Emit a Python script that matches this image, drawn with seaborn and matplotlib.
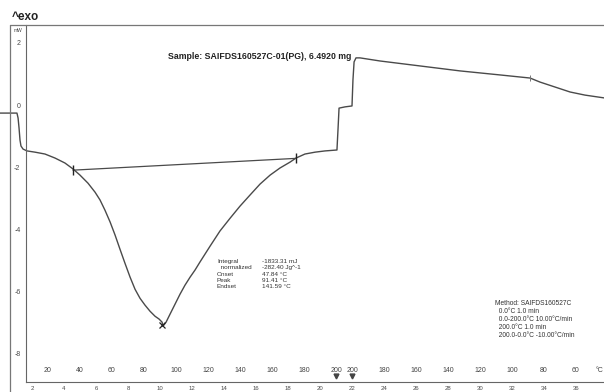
import matplotlib
matplotlib.use("Agg")
import matplotlib.pyplot as plt
from matplotlib.lines import Line2D
import seaborn as sns

# DSC curve: time (min) vs heat flow (mW)
time_min = [0.0, 1.06, 1.13, 1.19, 1.25, 1.31, 1.44, 1.69, 2.19, 2.81, 3.44,
            4.06, 4.56, 5.0, 5.5, 5.94, 6.25, 6.56, 6.88, 7.19, 7.5, 7.81,
            8.13, 8.44, 8.75, 9.06, 9.38, 9.69, 9.94, 10.13, 10.19, 10.38,
            10.63, 10.94, 11.25, 11.56, 11.88, 12.19, 12.5, 13.13, 13.75,
            14.38, 15.0, 15.63, 16.25, 16.88, 17.5, 18.13, 18.5, 19.06, 19.69,
            20.31, 21.06, 21.13, 21.19, 21.56, 22.0, 22.06, 22.13, 22.25, 22.5,
            23.75, 26.25, 28.75, 31.25, 33.13, 33.75, 34.69, 35.63, 36.56,
            37.75]
heat_flow = [-0.26, -0.26, -0.42, -0.74, -1.13, -1.32, -1.42, -1.48, -1.52,
             -1.58, -1.71, -1.87, -2.06, -2.26, -2.52, -2.81, -3.06, -3.39,
             -3.77, -4.19, -4.65, -5.10, -5.55, -5.94, -6.23, -6.45, -6.65,
             -6.81, -6.90, -7.00, -7.13, -7.00, -6.74, -6.42, -6.10, -5.81,
             -5.55, -5.32, -5.06, -4.55, -4.06, -3.65, -3.26, -2.90, -2.55,
             -2.26, -2.03, -1.84, -1.71, -1.58, -1.52, -1.48, -1.45, -0.74,
             -0.10, -0.06, -0.03, 0.81, 1.39, 1.52, 1.52, 1.42, 1.26, 1.10,
             0.97, 0.87, 0.74, 0.58, 0.42, 0.32, 0.23]

# integration baseline and markers
base_t = [4.56, 18.5]
base_mw = [-2.1, -1.72]
peak_t = [10.1]
peak_mw = [-7.1]
mark_t = [33.13]
mark_mw = [0.87]

# temperature labels above the time axis
temp_times = [3, 5, 7, 9, 11, 13, 15, 17, 19, 21, 22, 24, 26, 28, 30, 32, 34, 36]
temp_labels = ["20", "40", "60", "80", "100", "120", "140", "160", "180", "200",
               "200", "180", "160", "140", "120", "100", "80", "60"]
segment_ends = [21, 22]

ytick_major = [-8, -6, -4, -2, 0, 2]
ytick_minor = [-7, -5, -3, -1, 1]

sns.set_style("white")
plt.rcParams["font.family"] = ["Liberation Sans", "DejaVu Sans"]

col = "#4a4a4a"
fig = plt.figure(figsize=(6.04, 3.92), dpi=100)
ax = fig.add_axes([26 / 604, 10 / 392, 578 / 604, 357 / 392])

sns.lineplot(x=time_min, y=heat_flow, sort=False, ax=ax, color=col,
             linewidth=1.0, clip_on=False)
sns.lineplot(x=base_t, y=base_mw, sort=False, ax=ax, color=col, linewidth=0.9)
ax.plot(base_t, base_mw, ls="none", marker="|", ms=7, mew=1.0, color="#222")
ax.plot(peak_t, peak_mw, ls="none", marker="x", ms=4, mew=0.9, color="#222")
ax.plot(mark_t, mark_mw, ls="none", marker="|", ms=5, mew=0.7, color="#777")

ax.set_xlim(1.625, 37.75)
ax.set_ylim(-8.93, 2.58)

for s in ["top", "right"]:
    ax.spines[s].set_visible(False)
for s in ["left", "bottom"]:
    ax.spines[s].set_color("#666")
    ax.spines[s].set_linewidth(0.8)

xt = list(range(2, 38))
ax.set_xticks(xt)
ax.set_xticklabels([str(t) if t % 2 == 0 else "" for t in xt])
ax.tick_params(axis="x", direction="inout", length=5, width=0.7, colors=col,
               labelsize=4.3, pad=0.5)
ax.set_yticks(ytick_major)
ax.set_yticks(ytick_minor, minor=True)
ax.set_yticklabels([str(v) for v in ytick_major])
ax.tick_params(axis="y", which="both", direction="out", length=3, width=0.6,
               colors=col, labelsize=5, pad=1)

tr = ax.get_xaxis_transform()
for t, lab in zip(temp_times, temp_labels):
    ax.text(t, 0.031, lab, transform=tr, ha="center", va="center",
            fontsize=5, color="#444")
ax.text(37.5, 0.031, "°C", transform=tr, ha="center", va="center",
        fontsize=5, color="#444", clip_on=False)
ax.plot(segment_ends, [0.016, 0.016], ls="none", marker="v", ms=3.5,
        color="#444", transform=tr, clip_on=False)

# outer frame
fig.add_artist(Line2D([10 / 604, 1.0], [1 - 25 / 392, 1 - 25 / 392],
                      color="#777", lw=0.9))
fig.add_artist(Line2D([10 / 604, 10 / 604], [0, 1 - 25 / 392],
                      color="#777", lw=0.9))

fig.text(12 / 604, 1 - 17 / 392, "^exo", fontsize=8.5, fontweight="bold",
         color="#222", va="center", ha="left")
fig.text(14 / 604, 1 - 31 / 392, "mW", fontsize=3.5, color="#444",
         va="center", ha="left")

ax.text(10.5, 1.58, "Sample: SAIFDS160527C-01(PG), 6.4920 mg", fontsize=6.3,
        fontweight="bold", color="#222", va="center", ha="left")

ax.text(13.56, -4.97, "Integral\n  normalized\nOnset\nPeak\nEndset",
        fontsize=4.6, color="#333", va="top", ha="left", linespacing=1.3)
ax.text(16.38, -4.97,
        "-1833.31 mJ\n-282.40 Jg^-1\n47.84 °C\n91.41 °C\n141.59 °C",
        fontsize=4.6, color="#333", va="top", ha="left", linespacing=1.3)

ax.text(30.94, -6.29,
        "Method: SAIFDS160527C\n  0.0°C 1.0 min\n  0.0-200.0°C 10.00°C/min\n"
        "  200.0°C 1.0 min\n  200.0-0.0°C -10.00°C/min",
        fontsize=4.8, color="#333", va="top", ha="left", linespacing=1.2)

fig.savefig("out.png", dpi=100)
